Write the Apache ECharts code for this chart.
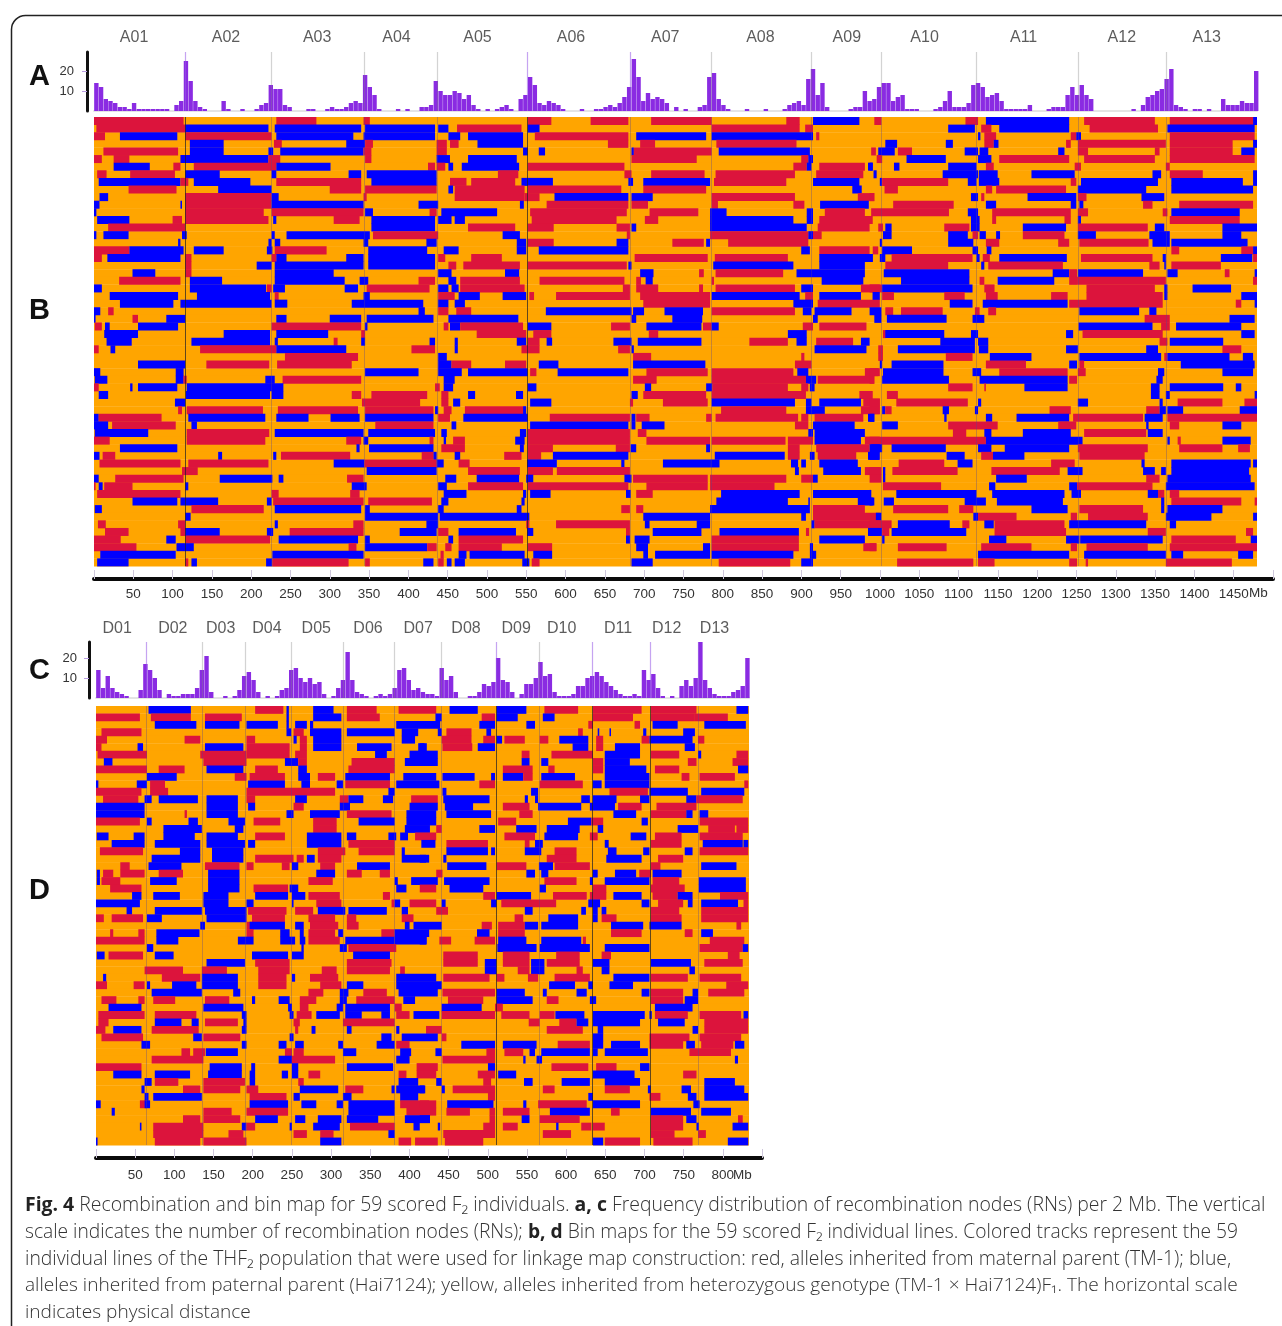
<!DOCTYPE html>
<html><head><meta charset="utf-8">
<script src="https://cdn.jsdelivr.net/npm/echarts@6/dist/echarts.min.js"></script>
<style>html,body{margin:0;padding:0;background:#fff}#c{width:1282px;height:1326px;filter:blur(0.5px)}</style>
</head><body><div id="c"></div>
<script>
// Recombination-node counts per 6 Mb reading bin
const histA=[14,12,6,5,4,2,2,1,4,1,1,1,1,1,1,1,0,3,5,25,15,5,2,1,0,0,0,5,1,0,0,1,0,0,1,3,4,13,11,11,3,2,0,0,0,1,1,0,0,1,2,1,1,2,4,5,4,18,12,8,1,0,0,0,1,0,1,0,0,2,2,3,15,10,8,8,10,9,6,8,3,1,0,1,0,1,2,3,1,0,6,8,17,13,4,3,5,4,3,1,0,0,0,1,0,0,1,1,2,3,2,4,7,12,26,17,5,9,6,7,6,4,0,2,0,1,0,0,2,3,17,19,6,3,1,0,0,0,1,0,0,0,1,0,0,0,1,3,4,5,3,16,21,8,14,2,0,0,0,0,1,2,2,10,5,6,12,14,14,5,7,8,1,1,1,0,0,0,1,2,5,10,2,2,2,4,13,14,12,7,8,9,5,1,1,1,1,1,3,0,0,0,1,2,2,2,8,12,8,13,8,6,0,0,0,0,0,0,0,0,1,0,3,7,8,10,11,16,21,3,2,1,0,1,1,0,1,0,0,6,3,3,3,5,4,4,20];
const histC=[14,5,11,5,3,2,1,0,0,4,17,14,10,4,0,2,1,1,2,2,2,5,14,21,3,0,0,1,0,1,4,11,13,9,3,0,1,0,1,4,5,14,15,10,8,10,7,8,2,0,1,5,9,23,9,3,2,1,0,1,2,1,2,5,14,15,9,4,5,3,2,2,1,15,9,11,3,0,0,1,1,3,7,6,8,20,9,8,3,0,2,7,7,10,18,11,12,3,1,1,1,2,6,6,10,11,13,11,8,6,4,2,1,1,2,1,14,9,12,5,1,0,1,0,6,9,6,10,29,9,5,2,1,1,1,3,4,6,20];
const chromA=["A01","A02","A03","A04","A05","A06","A07","A08","A09","A10","A11","A12","A13"];
const chromAMb=[51,168,284,385,488,607,727,848,958,1057,1183,1308,1416];
const chromD=["D01","D02","D03","D04","D05","D06","D07","D08","D09","D10","D11","D12","D13"];
const chromDMb=[27,98,159,218,281,347,411,472,536,594,666,728,789];
const boundsA=[116,226,344,437,551,683,785,913,1002,1123,1252,1365];
const boundsD=[64,136,191,249,315,381,441,510,565,633,707,768];
const caption=[
 ["{b|Fig. 4} Recombination and bin map for 59 scored F₂ individuals. {b|a, c} Frequency distribution of recombination nodes (RNs) per 2 Mb. The vertical"],
 ["scale indicates the number of recombination nodes (RNs); {b|b, d} Bin maps for the 59 scored F₂ individual lines. Colored tracks represent the 59"],
 ["individual lines of the THF₂ population that were used for linkage map construction: red, alleles inherited from maternal parent (TM-1); blue,"],
 ["alleles inherited from paternal parent (Hai7124); yellow, alleles inherited from heterozygous genotype (TM-1 × Hai7124)F₁. The horizontal scale"],
 ["indicates physical distance"]];
const captionSizes=[19.41,19.22,19.37,19.08,19.07];
// Genotype runs per individual (Mb): R maternal, B paternal; the rest of each track is heterozygous
const rowsB=[
"R0-114 R232-283 R343-351 R552-582 R632-680 R709-786 R881-898 B915-974 R993-1002 R1109-1125 B1135-1241 R1260-1350 R1369-1475 B1475-1480",
"R3-116 B116-222 B230-340 B345-434 B438-451 R462-544 B552-567 R786-898 R905-915 B1087-1121 R1129-1142 B1152-1241 R1267-1354 B1366-1477",
"R0-14 B33-106 R116-226 B232-330 B343-434 B451-466 B476-546 R561-680 B690-779 B786-915 R919-923 B1125-1128 R1133-1148 R1243-1250 B1250-1256 R1369-1477",
"B122-165 R229-239 B321-345 R345-355 R436-449 R453-464 B488-546 R654-680 R695-714 R792-894 B1007-1022 B1084-1093 R1133-1145 B1145-1151 R1237-1243 R1252-1364 R1369-1449 B1475-1481",
"R12-107 B122-165 B222-228 B237-343 R343-353 R436-449 B546-552 B566-574 B684-687 R687-786 B795-911 R989-995 B998-1019 R1023-1041 B1108-1125 B1127-1138 B1227-1235 R1252-1265 R1350-1356 R1369-1449 B1460-1477",
"R0-10 R25-45 B110-222 R222-237 R345-353 B436-453 B476-538 R684-767 R900-909 B909-915 R996-1003 B1034-1084 B1125-1142 R1152-1241 R1260-1350 R1369-1477",
"B25-71 R101-110 R127-232 B232-301 R425-434 R436-447 B451-457 B468-541 R552-675 R890-907 B907-913 R923-981 B985-991 B987-991 B1018-1025 B1087-1123 R1135-1145 R1248-1256 R1364-1369",
"R4-16 R46-103 B116-160 B226-232 B324-340 B347-436 R514-540 R675-684 R709-777 R791-892 R919-979 B992-996 B1080-1125 B1126-1150 B1193-1248 B1347-1358 R1369-1411 B1475-1481",
"B6-110 R110-120 B127-199 R232-340 B353-436 R453-474 R480-536 B544-584 B680-686 B699-784 R789-881 B915-974 B1000-1003 R1003-1087 B1112-1123 B1126-1152 R1243-1250 B1256-1354 B1371-1462 B1475-1481",
"R44-105 B158-226 R300-340 R345-436 B451-457 R459-548 R552-671 R699-779 B965-977 R1006-1023 R1135-1143 R1148-1237 B1252-1339 B1371-1475",
"B7-18 R116-226 B226-235 R343-347 R459-548 R548-567 B586-680 B684-711 R786-892 R972-993 R987-993 B1116-1125 R1129-1133 B1188-1250 R1252-1263 B1333-1362",
"B0-7 B110-112 R116-226 B226-343 B413-438 B542-547 R576-680 R684-705 R786-794 R890-904 B924-986 R1017-1094 B1135-1148 B1243-1250 B1254-1259 R1335-1347 R1381-1475",
"B0-3 R116-216 R226-343 B345-355 R427-436 B442-513 R555-678 R707-769 B784-805 B907-915 R930-981 R989-1088 B1112-1125 R1143-1243 R1252-1265 R1360-1366 B1371-1458",
"B4-45 R100-112 R116-222 B228-232 R305-338 B353-434 B438-455 B459-472 R557-665 R701-718 B784-890 B907-915 R923-991 B1116-1127 R1143-1148 R1235-1243 B1252-1256 R1369-1458",
"R18-116 B353-434 R476-536 R552-585 R665-682 B684-690 B784-907 R921-987 R998-1004 B1007-1015 R1082-1114 B1116-1127 B1182-1237 R1252-1341 B1350-1362 B1436-1481",
"B0-3 B12-44 B112-118 B226-230 B245-351 R355-438 B520-542 R678-682 R784-909 B909-915 R915-926 B1004-1015 B1087-1112 R1118-1125 B1127-1135 B1148-1153 R1182-1235 B1252-1275 B1343-1369 B1436-1460",
"B107-110 B222-226 B230-237 B343-349 B423-436 B538-550 R552-585 B665-680 R736-776 B779-784 R807-909 B1000-1003 B1087-1119 R1135-1152 R1227-1241 R1254-1342 B1347-1369 B1371-1468",
"R0-45 B45-114 B127-165 B220-227 R230-296 B349-424 B445-464 B538-550 B566-680 B900-911 R923-987 R991-998 B1003-1041 B1118-1125 B1136-1142 R1371-1381 R1460-1475 B1475-1481",
"R0-10 B17-110 R116-124 R226-232 B232-245 B321-343 B349-434 R438-447 R480-519 R688-781 R790-883 B923-991 B987-991 B1000-1007 R1015-1118 B1123-1127 R1131-1140 B1152-1238 R1256-1347 B1360-1364 B1434-1474 R1475-1481",
"R116-124 B207-226 B230-343 B349-434 R451-461 R470-542 R552-678 B680-684 B788-890 B923-981 R1007-1087 B1129-1133 R1138-1233 R1343-1356 B1362-1364 R1371-1434",
"B49-78 R116-124 B230-305 B438-455 B523-541 B695-712 R770-776 R791-877 B894-981 B1005-1114 B1220-1241 R1241-1251 B1252-1335 B1366-1379 R1439-1445 B1477-1481",
"R32-110 B122-163 B230-319 B338-349 R413-434 B451-461 R466-542 R567-675 R690-696 B702-711 R786-789 B926-979 B1027-1114 R1127-1133 B1150-1222 R1241-1251 R1251-1364 R1475-1481",
"B0-10 B122-219 R220-226 B228-243 B319-336 R347-427 B438-451 B455-464 R466-548 R673-682 R690-718 R770-775 R791-892 B900-915 R976-1000 R987-1003 B1003-1118 R1133-1146 R1263-1350 B1362-1366 B1398-1447",
"B20-107 B131-224 R230-235 B343-351 R438-459 B464-491 B520-550 R554-560 R588-682 R695-784 B786-898 R905-915 B923-976 B991-1000 B991-999 R1003-1018 R1082-1108 R1135-1150 R1218-1239 R1263-1360 B1362-1366 B1460-1481",
"B33-101 B110-226 B230-246 B328-419 B438-451 B459-472 R699-784 B890-915 R921-1000 B1089-1118 B1131-1239 R1241-1360 R1453-1460 B1477-1481",
"B0-8 R18-25 B413-421 R438-451 R461-480 B575-684 B686-700 B726-775 R786-892 B902-913 B917-964 B987-1002 R1007-1017 R1027-1080 R1121-1127 R1138-1148 B1254-1330 B1343-1352",
"B0-2 R49-56 B92-116 B232-245 B300-340 B347-432 B451-540 B684-690 B736-774 B915-921 B993-1002 B1009-1085 B1118-1133 R1337-1369 B1445-1477",
"R1-10 B14-20 B56-107 R226-340 B345-348 R445-451 B453-466 R466-546 B552-582 R658-682 B703-773 R775-786 B786-795 R902-915 R923-983 B1253-1347 R1358-1369 B1377-1460",
"B13-56 B165-224 B232-298 R340-345 R487-550 R559-582 R706-718 B883-907 R1004-1008 B1007-1082 B1116-1125 B1237-1246 R1258-1360 B1460-1477",
"B16-48 B124-224 B230-234 R305-310 B340-345 B427-434 B459-463 B538-550 R552-567 B576-583 B661-684 B692-773 R834-883 B894-907 R919-966 B976-987 B1077-1121 B1125-1138 R1356-1366 B1369-1437",
"R0-6 B21-27 R135-232 B232-321 R404-434 B459-463 R544-567 R667-682 B684-687 B917-983 R998-1004 B1023-1121 B1126-1138 B1237-1252 B1339-1354 R1436-1460",
"R243-336 B438-449 R686-709 R900-904 R998-1004 R1084-1118 B1140-1193 B1254-1358 R1362-1366 B1366-1445 B1462-1475",
"B56-116 R143-223 R233-328 B438-455 R455-480 R523-550 B566-591 B686-778 R892-913 B1000-1003 B1015-1081 R1135-1186 B1241-1251 R1254-1260 B1383-1477",
"B0-8 B104-114 B345-413 B438-468 B476-552 R555-563 B590-680 R703-781 R786-890 B895-909 R981-1000 R987-998 B1004-1081 B1118-1129 R1152-1239 R1252-1262 B1354-1362 B1436-1475",
"B1-17 B104-114 R114-118 B218-230 R240-340 B445-459 R686-716 R786-906 B906-919 R921-993 R987-993 B1003-1088 B1127-1239 R1241-1251 B1352-1360",
"R0-6 B46-49 B56-106 B118-241 R434-440 B445-457 B552-563 B701-709 B779-787 R787-883 R900-909 B911-917 R1087-1118 R1133-1135 B1184-1239 B1345-1356 B1369-1437 B1453-1460",
"B6-18 B117-224 B226-241 R328-340 R353-424 R442-451 B476-485 B537-546 B684-692 R699-779 R786-906 R974-991 R1009-1023 B1345-1356 B1364-1369 B1477-1481",
"B103-116 R341-415 R442-451 B457-466 B555-582 R682-686 R724-781 B786-892 B906-913 B923-976 R979-1000 R987-1000 R1021-1112 B1125-1129 B1252-1265 B1356-1360 R1379-1436 R1464-1481",
"R107-112 R118-215 R234-336 R345-432 B434-438 R445-455 R472-546 B546-550 R798-881 B906-930 R976-1000 R987-1000 B1003-1007 R1007-1015 B1080-1088 B1121-1125 R1216-1243 R1339-1356 B1356-1364 B1366-1386 B1458-1481",
"B0-6 R6-86 B120-218 B232-273 B301-338 B345-432 R438-453 B470-552 R580-682 B684-689 R690-707 R779-786 R791-896 R900-909 R917-979 B985-993 B987-993 B1082-1085 B1135-1143 B1174-1241 R1246-1335 B1337-1360 R1366-1481",
"B0-18 R23-104 B124-131 R358-432 B455-461 B555-680 B684-689 B697-726 R892-909 B915-968 B1003-1023 R1087-1150 R1227-1250 B1339-1342 R1369-1381 B1436-1460",
"B1-69 R118-223 B230-343 B349-434 B442-449 B542-550 R552-682 R692-703 B909-915 B917-981 R1093-1110 B1133-1142 B1182-1243 R1260-1339 B1341-1360",
"R0-20 R118-218 R321-340 B343-349 R427-432 B445-448 R457-472 B536-548 R552-682 R703-784 R786-880 R883-915 B917-976 R981-1000 R987-1135 B1135-1258 B1366-1369 R1379-1383 B1436-1472",
"B33-106 B334-338 B350-432 R442-472 B542-547 R552-584 R664-682 B683-690 B779-784 R883-898 R919-987 B987-1000 B989-1003 B1015-1084 B1125-1142 B1159-1241 R1252-1341 R1381-1436 R1456-1471",
"B0-7 R11-27 B158-163 B228-232 R238-326 R417-432 B432-436 B459-466 R522-544 R552-569 B584-680 B790-879 R883-898 B911-917 R921-970 B985-1000 B987-999 B1085-1108 R1129-1144 B1144-1184 R1254-1337",
"R7-110 R120-222 B305-344 R344-436 B436-445 R464-478 B551-589 B671-675 B724-784 B784-796 B887-896 B900-906 B923-972 R1024-1082 B1099-1118 R1218-1248 B1333-1337 B1371-1472 B1475-1481",
"R112-132 B347-436 R476-542 R552-584 R589-682 B892-897 B928-976 R981-1000 R987-1002 B1004-1007 R1016-1099 R1142-1229 B1239-1258 B1335-1350 B1358-1364 B1371-1470",
"B0-6 R27-114 B160-227 B235-241 R322-343 B447-461 B487-541 B550-559 B675-684 R686-781 R784-881 R900-915 B915-921 R987-1002 B1004-1007 B1148-1187 R1339-1356 B1366-1472",
"R0-2 B6-11 R13-49 B116-120 B328-347 B438-449 R476-546 R552-680 R703-781 R784-866 R1004-1078 B1139-1147 B1241-1251 R1251-1347 B1364-1477",
"R4-110 R226-235 R326-338 B445-474 B546-550 B555-581 B677-683 R690-711 B798-898 B915-989 B987-989 B1021-1123 B1143-1235 B1244-1256 B1341-1354 R1354-1362 R1369-1381",
"B49-106 B110-158 B220-226 R228-343 R349-430 B442-451 B544-548 B792-883 B909-911 B972-993 B987-991 B1005-1018 B1108-1135 B1149-1233 B1358-1362 R1371-1460 R1477-1481",
"B1-10 R124-216 B230-340 B345-351 B438-445 B538-544 R671-682 R690-699 B784-911 R915-981 R1017-1087 R1101-1119 B1193-1239 R1254-1335 B1358-1362 B1366-1436",
"B116-123 B345-438 B440-554 B699-784 B900-906 R915-1000 B995-1002 B1119-1125 R1125-1174 R1243-1251 R1265-1341 B1364-1422 B1475-1481",
"R5-15 R107-116 B230-234 R330-343 B423-438 R550-554 R588-682 B701-707 B767-784 B913-917 R917-1000 R987-1015 B1023-1089 R1105-1114 B1133-1145 R1146-1235 B1241-1339 B1369-1377",
"R14-44 R110-116 B116-160 B220-228 R249-343 B389-436 R438-451 B464-537 B551-559 R677-682 B711-773 B796-897 R906-910 B985-1000 B987-1003 R1003-1012 B1015-1110 R1146-1237 R1341-1364 R1466-1475",
"R0-34 B92-104 R116-224 B235-336 B345-351 B451-457 R464-546 B677-682 B688-707 R786-897 B923-981 B1003-1006 B1139-1161 B1237-1254 B1255-1360 R1371-1453 B1472-1481",
"R0-54 B105-127 R324-334 B345-424 R424-436 R447-455 R464-519 R552-583 B690-705 B775-784 R786-897 B911-915 R979-996 R987-995 R1023-1085 R1129-1193 R1243-1251 R1263-1341 R1369-1481",
"B8-104 B227-343 R441-445 B464-474 B478-548 B559-583 B699-705 B714-784 B786-890 B911-919 B1125-1241 B1260-1364 B1371-1386 B1456-1475",
"B4-44 R116-120 B124-131 B219-227 R227-324 R345-351 B419-432 R438-445 B449-455 B459-472 B545-554 R557-567 B684-711 R795-886 B900-915 R1022-1119 R1125-1146 R1241-1251 R1262-1265 R1364-1448"];
const rowsD=[
"B67-121 R203-239 B243-246 B277-303 R320-358 R386-434 B451-487 B511-549 R572-615 R634-696 R708-766 B817-832",
"R0-56 R70-121 R139-186 B243-246 B277-313 R320-362 B433-441 R492-509 B511-538 B570-585 R634-685 R708-764 R764-806",
"B75-128 B139-183 B192-232 B243-246 B254-269 B273-277 B383-439 B489-509 B549-560 R628-634 R687-694 B710-742 B776-829",
"R7-58 B243-249 R252-265 B273-313 B320-381 B390-411 B436-441 R447-479 B498-504 R615-621 B640-642 B655-657 B698-702 B749-764",
"R0-14 R113-133 R192-203 B252-256 R260-269 B277-313 B390-407 R441-479 R494-509 B511-518 R521-547 R566-577 B591-628 R638-647 R696-706 B706-761 R768-776",
"R0-7 B53-60 B139-188 R192-247 R260-269 B277-313 B333-377 B411-422 B413-419 R442-480 B487-509 B608-628 R638-647 B662-694 B751-764",
"R2-65 R133-192 R192-247 R254-269 B356-371 B400-436 R543-553 R581-634 B649-694 R708-744 B768-772 R817-832",
"B10-21 R137-192 B241-258 R258-269 R326-381 B394-436 B543-553 B568-577 R634-647 B649-681 R755-766 R812-832",
"R0-65 R80-113 B141-188 R203-232 B258-269 R322-381 R519-557 R577-585 R634-647 B649-702 R713-744 B819-832",
"B65-103 R177-192 R196-241 B258-273 R283-305 B318-375 B392-434 B442-483 B504-509 B519-545 R545-557 B568-611 B649-706 R747-757 R770-815",
"B0-3 B52-65 R69-88 B194-241 B262-273 B307-315 R318-375 B383-438 R489-509 R566-621 B634-645 B649-706 R827-832",
"R0-58 R69-92 R192-305 B373-381 B442-447 B555-564 R655-704 B706-755 B772-827",
"R9-54 B62-71 B80-130 B141-181 R192-203 B254-269 R311-322 B322-341 B366-379 R402-436 B443-502 B547-551 B560-564 B619-630 B634-664 B694-706 B753-766 R766-825",
"B0-62 B141-181 B194-203 R252-265 B311-324 B400-436 B445-481 R519-553 B564-619 B630-662 R666-696 R715-766",
"B0-62 R113-116 B141-181 B243-252 B273-311 R320-377 B396-434 B447-504 R540-557 B660-689 R708-753 B753-761 B770-781",
"R0-56 B65-71 B118-130 B169-190 R201-235 R277-307 B335-381 B396-434 R513-536 B602-632 R632-647 B696-704 R770-832",
"B86-135 B177-188 R277-307 B394-426 R434-441 B489-509 B536-562 B575-617 B640-647 B742-768 R781-815 R817-832",
"B1-16 B48-62 B86-126 B141-181 R203-241 B269-313 B320-332 B373-383 B388-398 R407-434 R521-560 B572-615 R630-640 B682-702 R713-747 R770-825",
"B20-62 B75-133 B141-190 B194-203 B269-313 R322-381 B415-433 R447-500 R547-553 B560-570 B649-654 R708-747 B774-825 B826-832",
"R5-60 B107-133 B148-188 R283-318 R335-381 B390-394 B447-500 B504-509 B547-568 R585-613 B653-664 B698-706 B751-761 R770-832",
"B71-133 B148-188 R203-252 R256-265 B269-279 R283-313 B390-425 B413-421 B443-447 R575-613 B651-696 R717-749",
"R31-43 B67-109 R139-183 R192-201 R237-247 B250-258 R286-305 B333-375 B448-498 R511-549 B565-583 R585-630 R708-720 B772-817",
"B1-5 R9-22 R31-62 R80-111 B143-183 B281-305 R320-339 R362-375 R434-442 B549-560 B568-577 B634-640 B662-689 R693-708 B710-747",
"B1-5 R7-31 B69-103 B143-183 R271-302 B381-385 B402-436 B444-502 R572-613 B630-634 B649-706 R710-744 B769-829",
"R18-58 B143-183 R201-245 B247-258 B383-396 R413-434 B451-494 B566-574 R634-651 R708-751 B769-829",
"B46-58 B73-107 B137-169 B203-245 B250-267 R271-311 R366-375 R494-509 B511-555 R583-626 B660-696 R630-651 R710-742 B742-761 R796-832",
"B0-56 B137-169 B192-201 B250-252 R281-313 R377-381 B381-388 R400-434 B441-446 B504-511 R517-587 B628-643 B696-706 R717-749 B755-761 B772-819 R826-832",
"B39-46 B75-135 B139-192 R194-243 R254-277 B283-318 B322-371 B390-398 R434-449 B547-557 B619-625 B634-640 B645-651 R708-744 R772-832",
"R0-10 R20-60 B65-84 B141-192 R199-241 R271-305 R320-332 R390-405 R534-545 B577-615 B634-640 R645-664 R708-747 R772-832",
"B133-139 R192-201 B196-241 B254-265 R273-309 R320-335 B394-400 B405-441 R492-505 R513-547 B547-564 B568-615 B657-698 B706-747 R817-823",
"R18-22 R54-62 B77-132 R192-201 B235-247 B260-265 R271-305 B309-315 R364-381 B381-425 B486-502 R513-547 R657-696 R751-761 B772-787",
"R0-62 B77-105 B181-201 B235-254 B260-267 R271-311 B318-381 B381-422 B413-421 R438-453 R483-509 B513-549 B568-619 R621-625 R783-827",
"B65-73 B262-265 B311-320 R322-383 B512-562 B566-630 B649-706 R770-825 B825-832",
"B1-11 R16-60 B75-99 B199-245 B250-265 B328-375 R443-487 R519-553 R587-617 R645-657 R806-821",
"B141-190 R203-247 R320-377 R443-487 B496-511 R519-553 B555-572 R575-617 B634-655 B708-759 R776-825",
"R62-111 R135-167 R207-247 R288-307 R320-375 R388-394 B496-511 R538-553 B555-572 R613-621 B645-655 B757-764",
"B9-13 R84-133 B135-181 R207-243 B250-254 R273-309 B383-434 R443-502 R511-521 R551-564 R585-630 B660-706 R708-755 R770-823",
"R0-14 R48-62 B65-69 B97-128 B135-181 R207-243 R286-313 B320-341 B383-441 B578-611 B628-634 B655-685 R804-832",
"B71-135 B175-184 R271-290 B311-322 R341-371 B386-436 R442-509 B511-547 B570-575 B613-626 B696-706 R708-749 B761-768 R781-827",
"R7-26 R54-62 R73-101 R139-170 B199-203 B233-247 R260-281 B311-320 R332-381 B392-407 R449-494 B511-557 R575-590 B630-638 R708-749 B751-768",
"B16-58 B137-188 B245-250 R260-271 B307-315 B318-375 R381-390 B441-492 R509-519 B713-761",
"R3-62 R75-128 B186-192 B247-252 R256-275 B281-311 B318-339 B364-375 R383-400 B405-438 R441-509 R517-553 R566-585 B586-623 B634-700 B706-709 R713-755 R770-823 B826-832",
"R3-16 B75-109 B122-131 R139-181 B188-192 R252-260 R315-381 R552-566 R591-613 B613-628 B634-694 B717-751 R776-832",
"R0-12 B22-58 R71-131 B186-192 R254-258 B275-280 B320-326 B383-387 R421-441 R575-621 B640-647 B761-768 R776-832",
"R7-60 B124-135 R137-184 B247-252 B364-377 B390-436 R441-447 B634-647 R706-757 R770-823",
"B58-69 B186-192 B233-243 B254-265 B309-315 B358-381 R383-400 B466-509 B519-562 R589-630 B634-647 B657-694 R706-749 B753-764 R772-813 B815-827",
"R109-120 R124-139 B140-181 R241-250 R252-265 B315-332 B388-402 B433-441 R498-509 R521-545 B553-560 B568-630 B634-640 B649-704 R757-810",
"R71-137 B233-250 R250-305 B383-400 R442-509 B545-548 B562-569 B815-819",
"R0-58 B145-186 B198-203 B250-258 B320-379 R409-436 B500-509 R581-628 R638-664 B694-706",
"B22-58 B75-120 B143-186 B196-203 B237-245 B250-258 R271-286 R386-396 R409-434 R487-509 B513-536 B634-687 R749-766",
"B62-71 R75-105 R137-190 B196-203 R258-265 B386-411 B434-441 R494-504 B546-557 B594-630 B649-694 B776-815",
"B58-62 R111-133 R137-184 R192-207 B260-309 R318-341 B377-381 B383-420 B413-419 B441-445 R455-509 R570-585 R649-681 B704-708 B747-759 B776-827",
"B62-67 B73-135 R196-243 B252-260 B315-326 B388-411 R500-509 B628-634 R706-720 B755-766 B776-832",
"B0-6 R56-65 B62-69 B196-245 B262-281 B307-315 B322-381 R388-425 R413-434 B448-507 B545-549 R564-626 B634-694 B762-770",
"B20-24 R137-173 R192-245 B322-381 R396-434 R447-477 R502-509 R519-553 B579-630 R657-668 B708-759 B772-810",
"R111-133 R137-184 B203-232 B254-267 B283-313 B320-360 B394-426 B413-426 R502-509 B543-553 R566-617 R708-749 B753-766 R819-825",
"B56-58 R73-137 B186-192 R192-203 B247-250 B277-311 R324-381 B405-413 B436-439 R494-509 R519-538 B587-590 R619-632 R634-649 R708-749 B766-769 B812-832",
"R73-137 R169-188 R252-269 R286-303 B373-381 R443-509 R570-606 R708-738 R768-778",
"B0-2 R75-133 R137-192 B286-313 R386-402 R407-436 R445-494 B634-647 R649-694 R711-761 B806-832"];

const COL={R:"#dc143c",B:"#0000ff",O:"#ffa500"};
function parseRows(rows,end){const base=[],marks=[];rows.forEach((r,i)=>{base.push([0,end,i,"O"]);
  r.split(" ").forEach(t=>{const m=t.match(/^([RB])(\d+)-(\d+)$/);if(m)marks.push([+m[2],Math.min(+m[3],end),i,m[1]]);});});
  return base.concat(marks);}
const renderSeg=(p,api)=>{const s=api.coord([api.value(0),api.value(2)]),e=api.coord([api.value(1),api.value(2)]),h=api.size([0,1])[1];
  return {type:"rect",shape:{x:s[0],y:s[1]-h/2,width:e[0]-s[0],height:h+0.4},style:{fill:COL[api.value(3)]}};};
const rowCats=Array.from({length:59},(_,i)=>i);
const END_A=1480,END_D=833;
const grids=[
 {left:94,width:1163,top:52,height:59},{left:94,width:1163,top:30,height:16},{left:94,width:1163,top:117,height:449},{left:94,width:1179,top:578,height:1},
 {left:96,width:653,top:642,height:56},{left:96,width:653,top:621,height:16},{left:96,width:653,top:706,height:439},{left:96,width:666,top:1157,height:1}];
const hiddenX=(g,max)=>({gridIndex:g,type:"value",min:0,max,show:false});
const histX=(g,max)=>({gridIndex:g,type:"value",min:0,max,axisLine:{show:true,onZero:false,lineStyle:{color:"#e4e4e4",width:2}},axisTick:{show:false},axisLabel:{show:false},splitLine:{show:false}});
const scaleX=(g,max,margin)=>({gridIndex:g,type:"value",min:0,max,interval:50,position:"bottom",
 axisLine:{show:true,onZero:false,lineStyle:{color:"#0a0a0a",width:4}},axisTick:{show:true,inside:true,length:9,lineStyle:{color:"#cfc8dc",width:1}},
 axisLabel:{margin,fontFamily:"Liberation Sans",fontSize:13.5,color:"#333",formatter:v=>(v===0||v===max)?"":String(v)},splitLine:{show:false}});
const histY=(g,max,margin)=>({gridIndex:g,type:"value",min:0,max,offset:7,axisLine:{show:true,onZero:false,lineStyle:{color:"#111",width:3}},
 axisTick:{show:true,length:5,lineStyle:{color:"#b79be0"},customValues:[10,20]},axisLabel:{margin,fontFamily:"Liberation Sans",fontSize:13,color:"#333",customValues:[10,20]},splitLine:{show:false}});
const hiddenY=g=>({gridIndex:g,type:"value",min:0,max:1,show:false});
const catY=g=>({gridIndex:g,type:"category",data:rowCats,inverse:true,show:false});
const hist=(vals,ax,bounds,purple)=>({type:"bar",xAxisIndex:ax,yAxisIndex:ax,data:vals.map((v,i)=>[i*6+3,v]),barWidth:4.4,itemStyle:{color:"#8a2be2"},silent:true,animation:false,
 markLine:{silent:true,symbol:"none",label:{show:false},animation:false,data:bounds.map(b=>({xAxis:b,lineStyle:{type:"solid",width:1.2,color:purple.includes(b)?"rgba(150,90,230,.55)":"rgba(130,130,130,.35)"}}))}});
const labels=(names,mb,ax)=>({type:"scatter",xAxisIndex:ax,yAxisIndex:ax,symbolSize:0,silent:true,animation:false,data:names.map((n,i)=>({name:n,value:[mb[i],0.5]})),
 label:{show:true,position:"inside",formatter:"{b}",fontFamily:"Liberation Sans",fontSize:16,color:"#333"}});
const heat=(rows,end,ax)=>({type:"custom",xAxisIndex:ax,yAxisIndex:ax,data:parseRows(rows,end),renderItem:renderSeg,encode:{x:[0,1],y:2},silent:true,animation:false,clip:false,progressive:0});
const seam=(bounds,ax,dark)=>({type:"line",xAxisIndex:ax,yAxisIndex:ax,data:[],silent:true,animation:false,z:5,
 markLine:{silent:true,symbol:"none",label:{show:false},animation:false,data:bounds.map(b=>({xAxis:b,lineStyle:{type:"solid",width:1,color:dark.includes(b)?"rgba(30,30,40,.7)":"rgba(90,70,140,.35)"}}))}});
const capText=caption.map((l,i)=>({type:"text",left:25,top:1196+i*26.8,style:{text:l[0],fontFamily:"Open Sans",fontWeight:300,fontSize:captionSizes[i],fill:"#333",rich:{b:{fontFamily:"Open Sans",fontWeight:"bold",fontSize:captionSizes[i],fill:"#222"}}}}));
const big=(t,y)=>({type:"text",left:29,top:y,style:{text:t,fontFamily:"Liberation Sans",fontWeight:"bold",fontSize:29,fill:"#111"}});
const small=(t,x,y)=>({type:"text",left:x,top:y,style:{text:t,fontFamily:"Liberation Sans",fontSize:13.5,fill:"#333"}});
const chart=echarts.init(document.getElementById("c"),null,{renderer:"canvas"});
chart.setOption({animation:false,backgroundColor:"#fff",grid:grids,
 xAxis:[histX(0,END_A),hiddenX(1,END_A),hiddenX(2,END_A),scaleX(3,1500,8),histX(4,END_D),hiddenX(5,END_D),hiddenX(6,END_D),scaleX(7,850,10)],
 yAxis:[histY(0,29.5,13),hiddenY(1),catY(2),hiddenY(3),histY(4,28,12),hiddenY(5),catY(6),hiddenY(7)],
 series:[hist(histA,0,boundsA,[116,551,683]),labels(chromA,chromAMb,1),heat(rowsB,END_A,2),seam(boundsA,2,[116,551]),
  hist(histC,4,boundsD,[64,510,633,707,768]),labels(chromD,chromDMb,5),heat(rowsD,END_D,6),seam(boundsD,6,[510,633,707])],
 graphic:[{type:"rect",left:9,top:13,shape:{width:1400,height:1500,r:[14,0,0,0]},style:{fill:"none",stroke:"#222",lineWidth:1.5},silent:true},
  big("A",62),big("B",296),big("C",656),big("D",876),small("Mb",1249,586),small("Mb",733,1168),...capText]});
</script></body></html>
